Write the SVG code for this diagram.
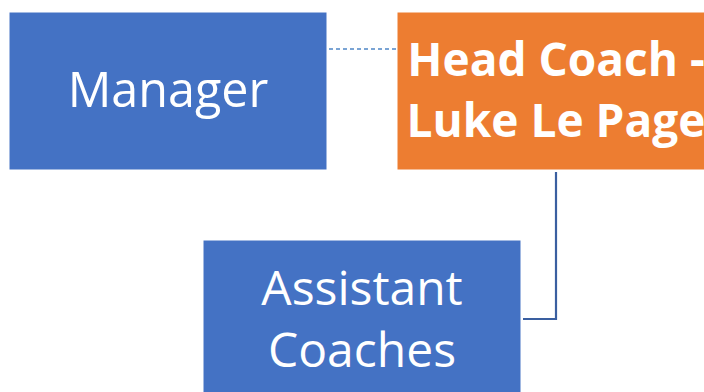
<svg xmlns="http://www.w3.org/2000/svg" width="704" height="392" viewBox="0 0 704 392">
<style>
.box{fill:#4472C4;stroke:#fff;stroke-width:1}
.orange{fill:#ED7D31;stroke:#fff;stroke-width:1}
.t{font-family:"Open Sans","Liberation Sans",sans-serif;fill:#fff;text-anchor:middle}
.b{font-weight:bold}
</style>
<rect width="704" height="392" fill="#fff"/>
<g id="connectors">
<path d="M322 49 H397" fill="none" stroke="#4F86C6" stroke-width="1.5" stroke-dasharray="4 3"/>
<path d="M556 172 V319 H523" fill="none" stroke="#3A5FA0" stroke-width="2.2"/>
</g>
<g id="manager">
<rect class="box" x="9" y="12" width="318" height="158"/>
<text class="t" x="168" y="107" font-size="48.5">Manager</text>
</g>
<g id="head-coach">
<rect class="orange" x="397" y="12" width="318" height="158"/>
<text class="t b" x="556" y="76" font-size="46">Head Coach -</text>
<text class="t b" x="556" y="137" font-size="46">Luke Le Page</text>
</g>
<g id="assistant-coaches">
<rect class="box" x="203" y="240" width="318" height="158"/>
<text class="t" x="362" y="305" font-size="48">Assistant</text>
<text class="t" x="362" y="367" font-size="48">Coaches</text>
</g>
</svg>
